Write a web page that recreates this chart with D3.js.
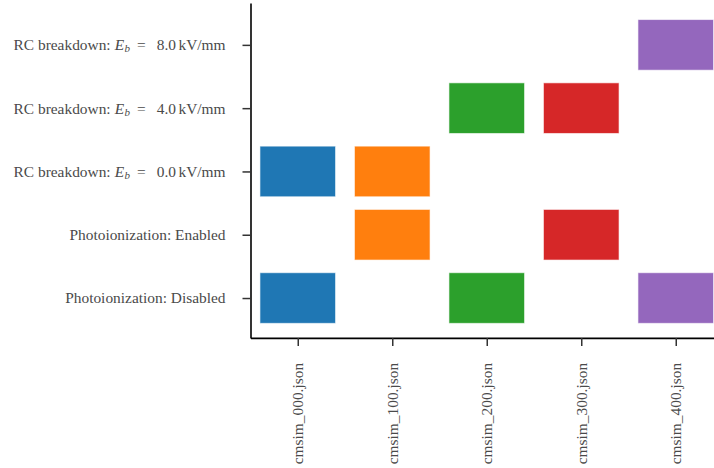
<!DOCTYPE html>
<html>
<head>
<meta charset="utf-8">
<script src="https://cdn.jsdelivr.net/npm/d3@7"></script>
<style>
  html, body { margin: 0; padding: 0; background: #fff; overflow: hidden; }
  svg { display: block; }
</style>
</head>
<body>
<div id="chart"></div>
<script>
// runs along the x axis
const files = ['cmsim_000.json', 'cmsim_100.json', 'cmsim_200.json', 'cmsim_300.json', 'cmsim_400.json'];
// y categories, bottom to top
const photoLabels = ['Disabled', 'Enabled'];
const breakdownValues = [0.0, 4.0, 8.0];
// settings per run
const photoionization = ['Disabled', 'Enabled', 'Disabled', 'Enabled', 'Disabled'];
const breakdown = [0.0, 0.0, 4.0, 4.0, 8.0];
const colors = ['#1f77b4', '#ff7f0e', '#2ca02c', '#d62728', '#9467bd'];

const width = 714, height = 468;
const serif = '"Liberation Serif", "DejaVu Serif", serif';
const fontSize = 15.4;
const nRows = photoLabels.length + breakdownValues.length;

const svg = d3.select('#chart')
    .append('svg')
    .attr('width', width)
    .attr('height', height);

const x = d3.scaleLinear()
    .domain([-0.5, files.length - 0.5])
    .range([250.5, 250.5 + 94.5 * files.length]);

const y = d3.scaleLinear()
    .domain([-0.63, nRows - 1 + 0.66])
    .range([337.9, 3.1]);

const photoRow = p => photoLabels.indexOf(p);
const breakdownRow = b => photoLabels.length + breakdownValues.indexOf(b);

// one cell for each setting of each run
const cells = [];
files.forEach((f, i) => {
  cells.push({ i: i, row: photoRow(photoionization[i]) });
  cells.push({ i: i, row: breakdownRow(breakdown[i]) });
});

svg.append('g')
    .selectAll('rect')
    .data(cells)
    .join('rect')
    .attr('x', d => x(d.i - 0.4))
    .attr('y', d => y(d.row + 0.4))
    .attr('width', d => x(d.i + 0.4) - x(d.i - 0.4))
    .attr('height', d => y(d.row - 0.4) - y(d.row + 0.4))
    .attr('fill', d => colors[d.i])
    .attr('stroke', 'rgba(255,255,255,0.6)')
    .attr('stroke-width', 1);

// Y axis
const yAxis = svg.append('g')
    .attr('transform', `translate(${x.range()[0]},0)`)
    .call(d3.axisLeft(y)
        .tickValues(d3.range(nRows))
        .tickSize(8)
        .tickPadding(17)
        .tickSizeOuter(0))
    .attr('font-family', serif)
    .attr('font-size', fontSize);

yAxis.selectAll('.tick text')
    .attr('fill', '#4a4a4a')
    .each(function(d) {
      const t = d3.select(this).text('');
      if (d < photoLabels.length) {
        t.text('Photoionization: ' + photoLabels[d]);
      } else {
        const v = breakdownValues[d - photoLabels.length];
        t.append('tspan').text('RC breakdown:');
        t.append('tspan').attr('dx', 4).attr('font-style', 'italic').text('E');
        t.append('tspan').attr('font-style', 'italic').attr('font-size', 11)
            .attr('dx', 0.5).attr('dy', 2).text('b');
        t.append('tspan').attr('dx', 7).attr('dy', -2).text('=');
        t.append('tspan').attr('dx', 11).text(v.toFixed(1));
        t.append('tspan').attr('dx', 2.5).text('kV/mm');
      }
    });

// X axis
const xAxis = svg.append('g')
    .attr('transform', `translate(0,${y.range()[0]})`)
    .call(d3.axisBottom(x)
        .tickValues(d3.range(files.length))
        .tickFormat(i => files[i])
        .tickSize(8)
        .tickPadding(17)
        .tickSizeOuter(0))
    .attr('font-family', serif)
    .attr('font-size', fontSize);

xAxis.selectAll('.tick text')
    .attr('fill', '#4a4a4a')
    .attr('transform', 'rotate(-90)')
    .attr('text-anchor', 'end')
    .attr('dy', '0.32em')
    .attr('x', -25)
    .attr('y', 0);

svg.selectAll('.domain').attr('stroke', '#000').attr('stroke-width', 1.6);
svg.selectAll('.tick line').attr('stroke', '#333').attr('stroke-width', 1.5);
</script>
</body>
</html>
